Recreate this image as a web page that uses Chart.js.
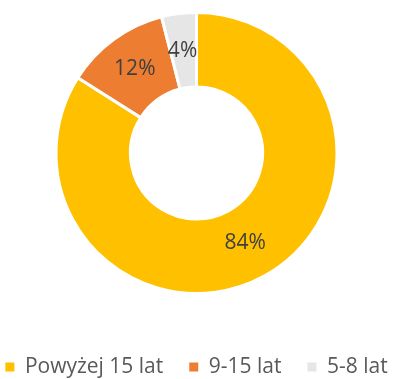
<!DOCTYPE html>
<html>
<head>
<meta charset="utf-8">
<script src="https://cdn.jsdelivr.net/npm/chart.js@4/dist/chart.umd.min.js"></script>
<style>
  html, body { margin: 0; padding: 0; background: #fff; }
  #wrap { width: 393px; height: 379px; }
</style>
</head>
<body>
<div id="wrap"><canvas id="ageChart"></canvas></div>
<script>
// Age groups and their share (%)
const categories = ['Powyżej 15 lat', '9-15 lat', '5-8 lat'];
const shares = [84, 12, 4];
const sliceColors = ['#FFC000', '#ED7D31', '#E7E6E6'];

const FONT = '"Open Sans", "Liberation Sans", sans-serif';

// Percent labels in the middle of each ring segment
const sliceLabels = {
    id: 'sliceLabels',
    afterDatasetsDraw(chart) {
        const ctx = chart.ctx;
        const meta = chart.getDatasetMeta(0);
        ctx.save();
        ctx.font = '21px ' + FONT;
        ctx.fillStyle = '#404040';
        ctx.textAlign = 'center';
        ctx.textBaseline = 'middle';
        meta.data.forEach((arc, i) => {
            const p = arc.tooltipPosition();
            ctx.fillText(shares[i] + '%', p.x - 1, p.y);
        });
        ctx.restore();
    }
};

new Chart(document.getElementById('ageChart'), {
    type: 'doughnut',
    data: {
        labels: categories,
        datasets: [{
            data: shares,
            backgroundColor: sliceColors,
            borderColor: '#ffffff',
            borderWidth: 3
        }]
    },
    options: {
        responsive: true,
        maintainAspectRatio: false,
        animation: false,
        cutout: '47%',
        layout: {
            // negative sides give the one-line legend enough room
            padding: { top: 11, bottom: -8.5, left: -30, right: -30 }
        },
        plugins: {
            tooltip: { enabled: false },
            legend: {
                position: 'bottom',
                title: {
                    display: true,
                    text: '',
                    font: { size: 10, lineHeight: 1 },
                    padding: { top: 0, bottom: 25.5 }
                },
                labels: {
                    boxWidth: 9,
                    boxHeight: 9,
                    padding: 26,
                    color: '#595959',
                    font: { size: 21, family: FONT },
                    generateLabels(chart) {
                        return Chart.overrides.doughnut.plugins.legend.labels
                            .generateLabels(chart)
                            .map(item => Object.assign(item, { lineWidth: 0 }));
                    }
                }
            }
        }
    },
    plugins: [sliceLabels]
});
</script>
</body>
</html>
